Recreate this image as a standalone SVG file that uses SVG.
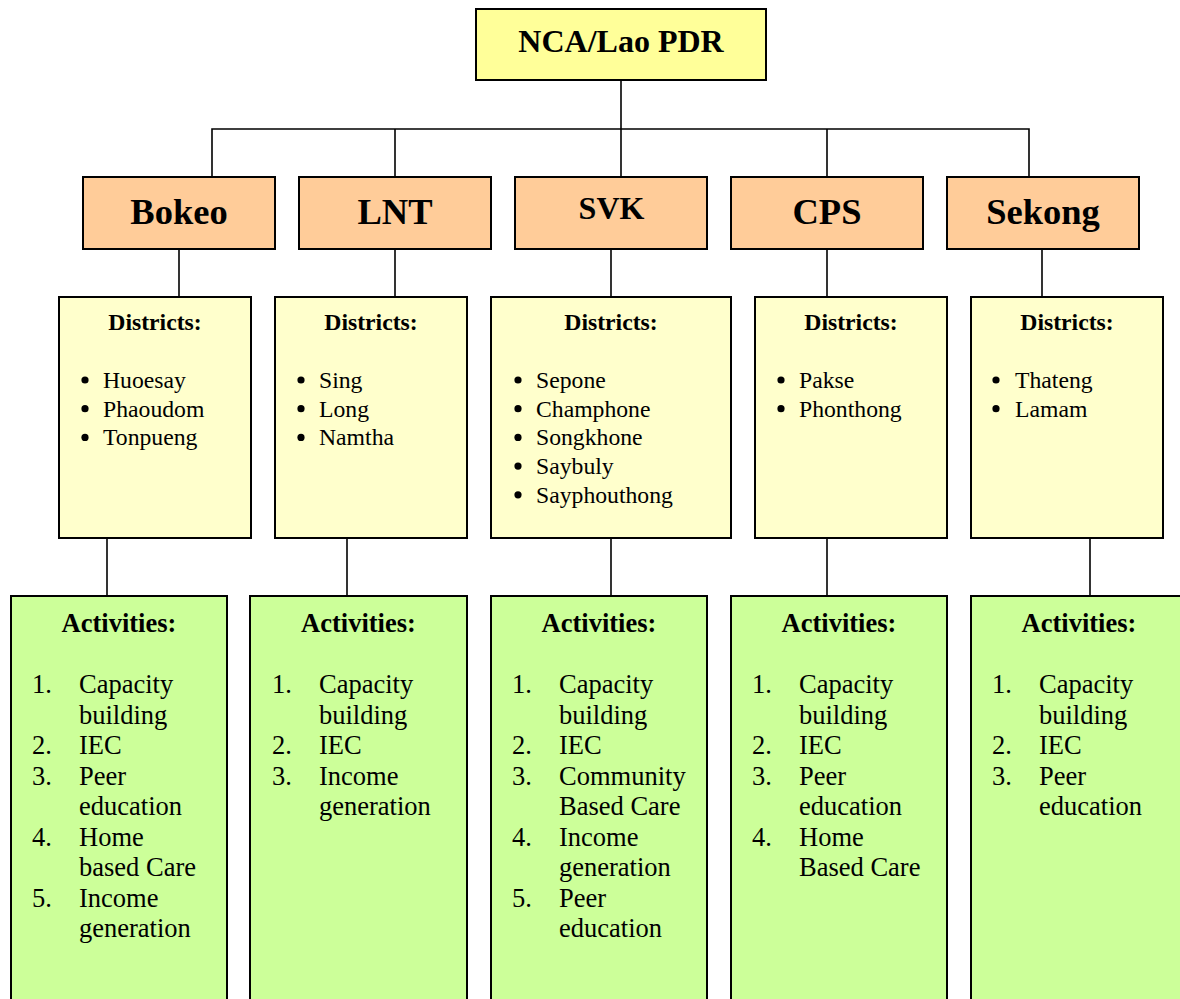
<svg xmlns="http://www.w3.org/2000/svg" width="1180" height="999" viewBox="0 0 1180 999">
  <style>
    .box { stroke: #000; stroke-width: 2; }
    .root { fill: #FFFF99; }
    .prov { fill: #FFCC99; }
    .dist { fill: #FFFFCC; }
    .act { fill: #CCFF99; }
    .wire { stroke: #000; stroke-width: 1.6; fill: none; }
    text { font-family: "Liberation Serif", "Times New Roman", serif; fill: #000; }
    .title { font-size: 32px; font-weight: bold; text-anchor: middle; }
    .prov-label { font-size: 36.5px; font-weight: bold; text-anchor: middle; }
    .head-d { font-size: 23.7px; font-weight: bold; text-anchor: middle; }
    .item-d { font-size: 23.7px; }
    .head-a { font-size: 26.5px; font-weight: bold; text-anchor: middle; }
    .item-a { font-size: 26.5px; }
  </style>

  <!-- connectors -->
  <g id="connectors">
    <path class="wire" d="M621 80 V177"/>
    <path class="wire" d="M212 177 V129 H1029 V177"/>
    <path class="wire" d="M395 129 V177"/>
    <path class="wire" d="M827 129 V177"/>
    <path class="wire" d="M179 249 V297"/>
    <path class="wire" d="M395 249 V297"/>
    <path class="wire" d="M611 249 V297"/>
    <path class="wire" d="M827 249 V297"/>
    <path class="wire" d="M1042 249 V297"/>
    <path class="wire" d="M107 538 V596"/>
    <path class="wire" d="M347 538 V596"/>
    <path class="wire" d="M611 538 V596"/>
    <path class="wire" d="M827 538 V596"/>
    <path class="wire" d="M1090 538 V596"/>
  </g>

  <!-- root -->
  <g id="nca">
    <rect class="box root" x="476" y="9" width="290" height="71"/>
    <text class="title" x="621" y="52">NCA/Lao PDR</text>
  </g>

  <!-- provinces -->
  <g id="bokeo">
    <rect class="box prov" x="83" y="177" width="192" height="72"/>
    <text class="prov-label" x="179" y="224">Bokeo</text>
  </g>
  <g id="lnt">
    <rect class="box prov" x="299" y="177" width="192" height="72"/>
    <text class="prov-label" x="395" y="224">LNT</text>
  </g>
  <g id="svk">
    <rect class="box prov" x="515" y="177" width="192" height="72"/>
    <text class="prov-label" x="611.5" y="219" style="font-size:32px">SVK</text>
  </g>
  <g id="cps">
    <rect class="box prov" x="731" y="177" width="192" height="72"/>
    <text class="prov-label" x="827" y="224">CPS</text>
  </g>
  <g id="sekong">
    <rect class="box prov" x="947" y="177" width="192" height="72"/>
    <text class="prov-label" x="1043" y="224">Sekong</text>
  </g>

  <!-- district lists -->
  <g id="bokeo-districts">
    <rect class="box dist" x="59" y="297" width="192" height="241"/>
    <text class="head-d" x="155" y="330">Districts:</text>
    <circle cx="85" cy="380" r="3.6"/><text class="item-d" x="103" y="388">Huoesay</text>
    <circle cx="85" cy="408.7" r="3.6"/><text class="item-d" x="103" y="416.7">Phaoudom</text>
    <circle cx="85" cy="437.4" r="3.6"/><text class="item-d" x="103" y="445.4">Tonpueng</text>
  </g>
  <g id="lnt-districts">
    <rect class="box dist" x="275" y="297" width="192" height="241"/>
    <text class="head-d" x="371" y="330">Districts:</text>
    <circle cx="301" cy="380" r="3.6"/><text class="item-d" x="319" y="388">Sing</text>
    <circle cx="301" cy="408.7" r="3.6"/><text class="item-d" x="319" y="416.7">Long</text>
    <circle cx="301" cy="437.4" r="3.6"/><text class="item-d" x="319" y="445.4">Namtha</text>
  </g>
  <g id="svk-districts">
    <rect class="box dist" x="491" y="297" width="240" height="241"/>
    <text class="head-d" x="611" y="330">Districts:</text>
    <circle cx="518" cy="380" r="3.6"/><text class="item-d" x="536" y="388">Sepone</text>
    <circle cx="518" cy="408.7" r="3.6"/><text class="item-d" x="536" y="416.7">Champhone</text>
    <circle cx="518" cy="437.4" r="3.6"/><text class="item-d" x="536" y="445.4">Songkhone</text>
    <circle cx="518" cy="466.1" r="3.6"/><text class="item-d" x="536" y="474.1">Saybuly</text>
    <circle cx="518" cy="494.8" r="3.6"/><text class="item-d" x="536" y="502.8">Sayphouthong</text>
  </g>
  <g id="cps-districts">
    <rect class="box dist" x="755" y="297" width="192" height="241"/>
    <text class="head-d" x="851" y="330">Districts:</text>
    <circle cx="781" cy="380" r="3.6"/><text class="item-d" x="799" y="388">Pakse</text>
    <circle cx="781" cy="408.7" r="3.6"/><text class="item-d" x="799" y="416.7">Phonthong</text>
  </g>
  <g id="sekong-districts">
    <rect class="box dist" x="971" y="297" width="192" height="241"/>
    <text class="head-d" x="1067" y="330">Districts:</text>
    <circle cx="996" cy="380" r="3.6"/><text class="item-d" x="1015" y="388">Thateng</text>
    <circle cx="996" cy="408.7" r="3.6"/><text class="item-d" x="1015" y="416.7">Lamam</text>
  </g>

  <!-- activity lists (boxes run past the lower edge) -->
  <g id="bokeo-activities">
    <rect class="box act" x="11" y="596" width="216" height="420"/>
    <text class="head-a" x="119" y="632">Activities:</text>
    <g class="item-a">
      <text x="32" y="693">1.</text><text x="79" y="693">Capacity</text>
      <text x="79" y="723.5">building</text>
      <text x="32" y="754">2.</text><text x="79" y="754">IEC</text>
      <text x="32" y="784.5">3.</text><text x="79" y="784.5">Peer</text>
      <text x="79" y="815">education</text>
      <text x="32" y="845.5">4.</text><text x="79" y="845.5">Home</text>
      <text x="79" y="876">based Care</text>
      <text x="32" y="906.5">5.</text><text x="79" y="906.5">Income</text>
      <text x="79" y="937">generation</text>
    </g>
  </g>
  <g id="lnt-activities">
    <rect class="box act" x="250" y="596" width="217" height="420"/>
    <text class="head-a" x="358.5" y="632">Activities:</text>
    <g class="item-a">
      <text x="272" y="693">1.</text><text x="319" y="693">Capacity</text>
      <text x="319" y="723.5">building</text>
      <text x="272" y="754">2.</text><text x="319" y="754">IEC</text>
      <text x="272" y="784.5">3.</text><text x="319" y="784.5">Income</text>
      <text x="319" y="815">generation</text>
    </g>
  </g>
  <g id="svk-activities">
    <rect class="box act" x="491" y="596" width="216" height="420"/>
    <text class="head-a" x="599" y="632">Activities:</text>
    <g class="item-a">
      <text x="512" y="693">1.</text><text x="559" y="693">Capacity</text>
      <text x="559" y="723.5">building</text>
      <text x="512" y="754">2.</text><text x="559" y="754">IEC</text>
      <text x="512" y="784.5">3.</text><text x="559" y="784.5">Community</text>
      <text x="559" y="815">Based Care</text>
      <text x="512" y="845.5">4.</text><text x="559" y="845.5">Income</text>
      <text x="559" y="876">generation</text>
      <text x="512" y="906.5">5.</text><text x="559" y="906.5">Peer</text>
      <text x="559" y="937">education</text>
    </g>
  </g>
  <g id="cps-activities">
    <rect class="box act" x="731" y="596" width="216" height="420"/>
    <text class="head-a" x="839" y="632">Activities:</text>
    <g class="item-a">
      <text x="752" y="693">1.</text><text x="799" y="693">Capacity</text>
      <text x="799" y="723.5">building</text>
      <text x="752" y="754">2.</text><text x="799" y="754">IEC</text>
      <text x="752" y="784.5">3.</text><text x="799" y="784.5">Peer</text>
      <text x="799" y="815">education</text>
      <text x="752" y="845.5">4.</text><text x="799" y="845.5">Home</text>
      <text x="799" y="876">Based Care</text>
    </g>
  </g>
  <g id="sekong-activities">
    <rect class="box act" x="971" y="596" width="230" height="420"/>
    <text class="head-a" x="1079" y="632">Activities:</text>
    <g class="item-a">
      <text x="992" y="693">1.</text><text x="1039" y="693">Capacity</text>
      <text x="1039" y="723.5">building</text>
      <text x="992" y="754">2.</text><text x="1039" y="754">IEC</text>
      <text x="992" y="784.5">3.</text><text x="1039" y="784.5">Peer</text>
      <text x="1039" y="815">education</text>
    </g>
  </g>
</svg>
